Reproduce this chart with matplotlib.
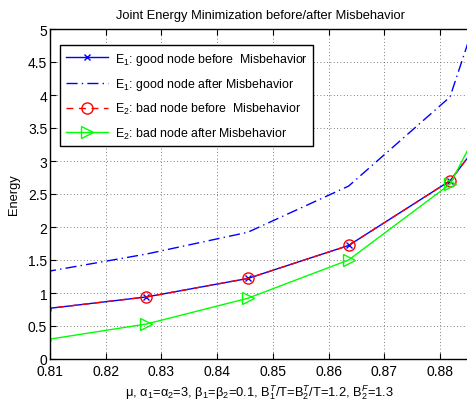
import numpy as np
import matplotlib
matplotlib.use("Agg")
import matplotlib.pyplot as plt

plt.rcParams['font.family'] = ['Liberation Sans', 'DejaVu Sans']
plt.rcParams['mathtext.fontset'] = 'custom'
plt.rcParams['mathtext.rm'] = 'Liberation Sans'
plt.rcParams['mathtext.it'] = 'Liberation Sans:italic'
plt.rcParams['mathtext.bf'] = 'Liberation Sans:bold'

mu = [0.8091, 0.8273, 0.8455, 0.8636, 0.8818, 0.9000]
e1_before = [0.76, 0.94, 1.22, 1.72, 2.70, 4.70]
e1_after = [1.32, 1.59, 1.92, 2.62, 3.97, 8.60]
e2_before = [0.76, 0.94, 1.22, 1.72, 2.70, 4.70]
e2_after = [0.29, 0.53, 0.92, 1.50, 2.65, 5.60]

labels = [r'E$_1$: good node before  Misbehavior',
          r'E$_1$: good node after Misbehavior',
          r'E$_2$: bad node before  Misbehavior',
          r'E$_2$: bad node after Misbehavior']
xticks = [0.81, 0.82, 0.83, 0.84, 0.85, 0.86, 0.87, 0.88]
yticks = [0, 0.5, 1, 1.5, 2, 2.5, 3, 3.5, 4, 4.5, 5]

fig = plt.figure(figsize=(4.67, 4.02), dpi=100)
ax = fig.add_axes([50/467, 1-360/402, 420/467, 330/402])

ax.plot(mu, e1_before, color='#0000ff', ls='-', lw=1.0, marker='x', ms=4.5, mew=1.0, label=labels[0])
ax.plot(mu, e1_after, color='#0000ff', ls=(0, (8, 3, 1, 3)), lw=1.0, label=labels[1])
ax.plot(mu, e2_before, color='#ff0000', ls=(0, (5, 4)), lw=1.0, marker='o', ms=8, mfc='none', mew=1.0, label=labels[2])
ax.plot(mu, e2_after, color='#00ff00', ls='-', lw=1.0, marker='>', ms=8, mfc='none', mew=1.0, label=labels[3])

ax.set_xlim(0.81, 0.81 + (470 - 50) / 5571)
ax.set_ylim(0, 5)
ax.set_xticks(xticks)
ax.set_xticklabels([f'{v:.2f}' for v in xticks])
ax.set_yticks(yticks)
ax.set_yticklabels(['0', '0.5', '1', '1.5', '2', '2.5', '3', '3.5', '4', '4.5', '5'])
ax.tick_params(direction='in', labelsize=10, top=True, right=False, length=4)
ax.tick_params(axis='x', pad=3.5)
ax.tick_params(axis='y', pad=2)
ax.grid(True, ls=(0, (1, 3)), color='#555555', lw=0.6)
for s in ax.spines.values():
    s.set_linewidth(1.0)

ax.set_title('Joint Energy Minimization before/after Misbehavior', fontsize=9.3, pad=8)
ax.set_xlabel('μ, α$_1$=α$_2$=3, β$_1$=β$_2$=0.1, B$_1^T$/T=B$_2^T$/T=1.2, B$_2^F$=1.3', fontsize=9.3, labelpad=3)
ax.set_ylabel('Energy', fontsize=9.3, labelpad=6)

leg = ax.legend(loc='upper left', bbox_to_anchor=(10/420, 1 - 16/330), fontsize=8.9,
                frameon=True, fancybox=False, edgecolor='black', framealpha=1,
                handlelength=3.4, borderaxespad=0, labelspacing=0.75, handletextpad=0.6,
                borderpad=0.45)
leg.get_frame().set_linewidth(1.0)

fig.savefig('out.png', dpi=100)
